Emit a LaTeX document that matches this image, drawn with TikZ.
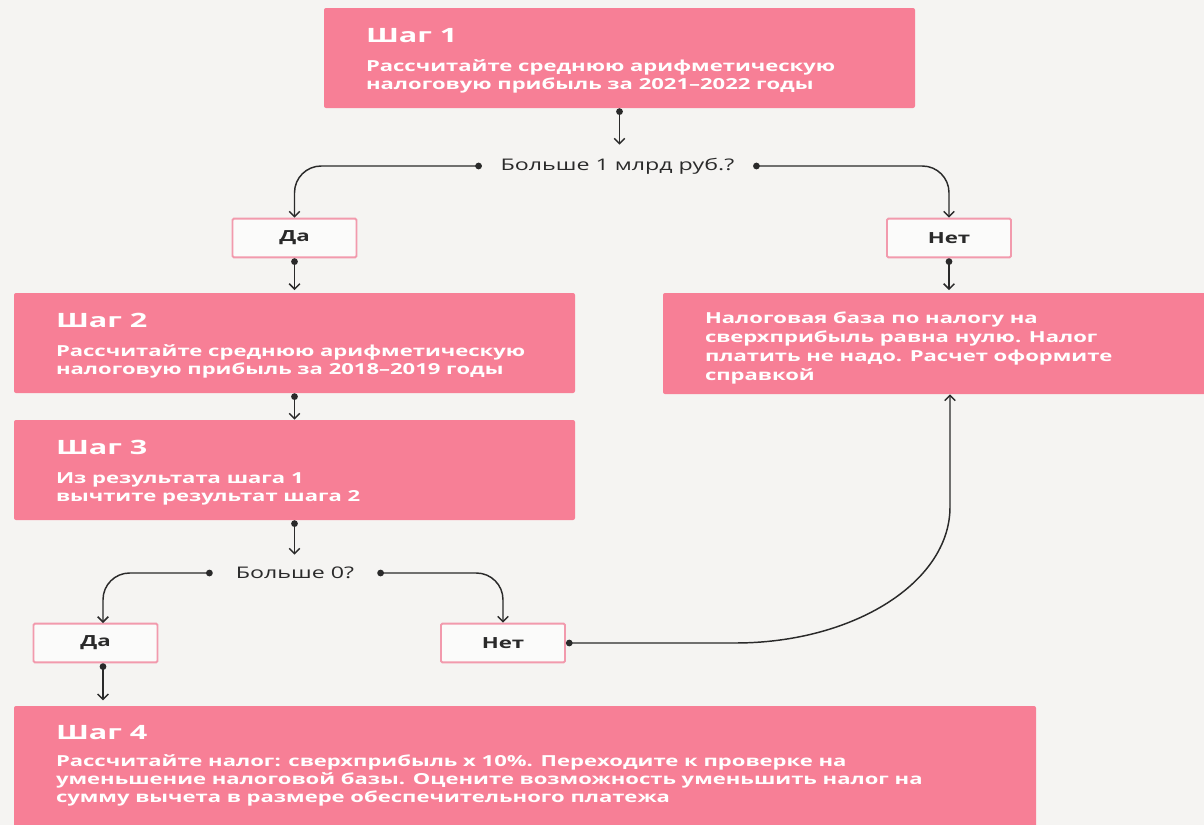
\documentclass[tikz,border=0pt]{standalone}
\usepackage{fontspec}
\setmainfont{Open Sans}[FakeStretch=1.45]
\newfontfamily\ttlfont{Open Sans}[FakeStretch=1.55]
\usetikzlibrary{arrows.meta,calc,fit}
\definecolor{bg}{HTML}{F5F4F2}
\definecolor{pinkfill}{HTML}{F77F96}
\definecolor{pinkline}{HTML}{F29AAD}
\definecolor{ink}{HTML}{2A2A2A}
\begin{document}
\begin{tikzpicture}[x=0.75pt,y=-0.75pt,
  box/.style={fill=pinkfill, draw=none, rounded corners=1.5pt, inner sep=0pt},
  ans/.style={fill=bg!40!white, draw=pinkline, line width=1.4pt, minimum width=93pt, minimum height=29pt, font=\bfseries\fontsize{11.5}{13}\selectfont, text=ink, inner sep=0pt, rounded corners=1pt},
  ttl/.style={font=\ttlfont\bfseries\fontsize{14.8}{17}\selectfont, text=white, inner sep=0pt, anchor=base west},
  txt/.style={font=\bfseries\fontsize{11.4}{13.5}\selectfont, text=white, inner sep=0pt, anchor=north west, align=left},
  qst/.style={font=\fontsize{12}{14}\selectfont, text=ink, inner sep=0pt},
  conn/.style={draw=ink, line width=1.1pt, {Circle[length=5pt]}-{Straight Barb[length=4pt,width=8pt]}},
]
\fill[bg] (0,0) rectangle (1204,825);
\useasboundingbox (0,0) rectangle (1204,825);

% boxes
\node[box, fit={(324,8) (915,108)}] (s1) {};
\node[box, fit={(14,293) (575,393)}] (s2) {};
\node[box, fit={(14,420) (575,520)}] (s3) {};
\node[box, fit={(663,293) (1210,394)}] (r) {};
\node[box, fit={(14,706) (1036,830)}] (s4) {};

% texts
\node[ttl] (s1t) at ($(s1.north west)+(42,35)$) {Шаг 1};
\node[txt] (s1b) at ($(s1.north west)+(42,52)$) {Рассчитайте среднюю арифметическую\\налоговую прибыль за 2021–2022 годы};
\node[ttl] (s2t) at ($(s2.north west)+(42,35)$) {Шаг 2};
\node[txt] (s2b) at ($(s2.north west)+(42,52)$) {Рассчитайте среднюю арифметическую\\налоговую прибыль за 2018–2019 годы};
\node[ttl] (s3t) at ($(s3.north west)+(42,35)$) {Шаг 3};
\node[txt] (s3b) at ($(s3.north west)+(42,53)$) {Из результата шага 1\\вычтите результат шага 2};
\node[txt, font=\bfseries\fontsize{11.4}{14.1}\selectfont] (rb) at ($(r.north west)+(42,19)$) {Налоговая база по налогу на\\сверхприбыль равна нулю. Налог\\платить не надо. Расчет оформите\\справкой};
\node[ttl] (s4t) at ($(s4.north west)+(42,34)$) {Шаг 4};
\node[txt, font=\bfseries\fontsize{11.4}{13.5}\selectfont] (s4b) at ($(s4.north west)+(42,49)$) {Рассчитайте налог: сверхприбыль х 10\%. Переходите к проверке на\\уменьшение налоговой базы. Оцените возможность уменьшить налог на\\сумму вычета в размере обеспечительного платежа};

% questions
\node[qst, minimum width=203pt, minimum height=31.5pt] (q1) at (617.5,166) {Больше 1 млрд руб.?};
\node[qst, minimum width=123pt, minimum height=27pt] (q2) at (295,573) {Больше 0?};

% answers
\node[ans] (y1) at (294.5,238) {Да};
\node[ans] (n1) at (949,238) {Нет};
\node[ans] (y2) at (95.5,643) {Да};
\node[ans] (n2) at (503,643) {Нет};

% helper coordinates
\coordinate (y2a) at (103,623);
\coordinate (c1) at (735,643);
\coordinate (c2) at (854,643);
\coordinate (c3) at (950,582);
\coordinate (c4) at (950,507);

% connectors
\draw[conn] (s1.south) -- (s1.south |- q1.north);
\draw[conn, rounded corners=20pt] (q1.west) -| (y1.north);
\draw[conn, rounded corners=20pt] (q1.east) -| (n1.north);
\draw[conn, shorten >=2pt] (y1.south) -- (y1.south |- s2.north);
\draw[conn, shorten >=2pt] (n1.south) -- (n1.south |- r.north);
\draw[conn] (s2.south) -- (s3.north);
\draw[conn] (s3.south) -- (s3.south |- q2.north);
\draw[conn, rounded corners=20pt] (q2.west) -| (y2a);
\draw[conn, rounded corners=20pt] (q2.east) -| (n2.north);
\draw[conn, shorten >=4pt] (y2a |- y2.south) -- (y2a |- s4.north);
\draw[conn] (n2.east) -- (c1) .. controls (c2) and (c3) .. (c4) -- (c4 |- r.south);
\end{tikzpicture}
\end{document}
